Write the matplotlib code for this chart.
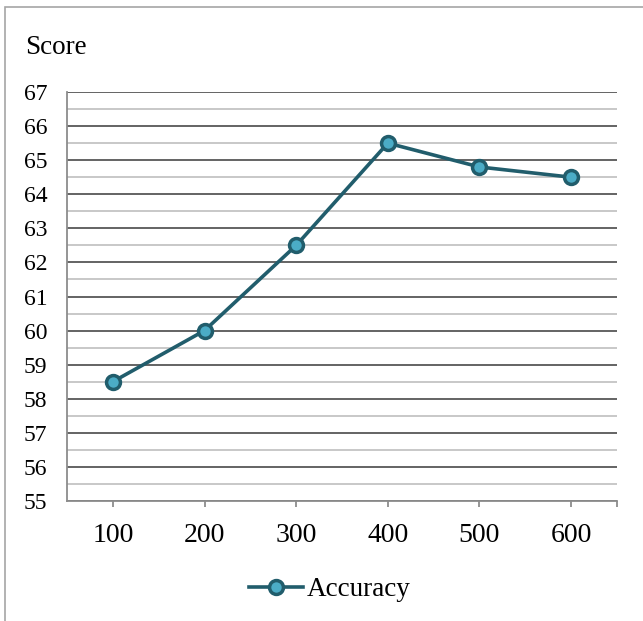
import numpy as np
import matplotlib.pyplot as plt
from matplotlib.patches import Rectangle

# chart data
sizes = ['100', '200', '300', '400', '500', '600']
accuracy = [58.5, 60.0, 62.5, 65.5, 64.8, 64.5]
y_ticks = list(range(55, 68))

plt.rcParams['font.family'] = ['Liberation Serif', 'DejaVu Serif']

line_col = '#215d6c'
fill_col = '#4bacc6'

fig = plt.figure(figsize=(6.43, 6.21), dpi=100)
ax = fig.add_axes([67 / 643, 120 / 621, 550 / 643, 409 / 621])

x = np.arange(len(sizes))
ax.plot(x, accuracy, color=line_col, lw=2.6, marker='o', ms=10,
        mfc=fill_col, mec=line_col, mew=2.5, label='Accuracy', zorder=5,
        clip_on=False)

ax.set_xlim(-0.5, len(sizes) - 0.5)
ax.set_ylim(55, 67)
ax.set_xticks(list(x) + [len(sizes) - 0.5])
ax.set_xticklabels(sizes + [''])
ax.set_yticks(y_ticks)
ax.set_yticks(np.arange(55.5, 67, 1.0), minor=True)

# excel style gridlines
ax.grid(which='major', axis='y', color='#636363', lw=1.4)
ax.grid(which='minor', axis='y', color='#c4c4c4', lw=1.3)
ax.set_axisbelow(True)

for s in ['top', 'right']:
    ax.spines[s].set_visible(False)
for s in ['left', 'bottom']:
    ax.spines[s].set_color('#8c8c8c')
    ax.spines[s].set_linewidth(1.3)

ax.tick_params(axis='y', which='both', length=0, pad=14, labelsize=17)
ax.tick_params(axis='x', length=4, width=1.3, color='#8c8c8c', pad=12,
               labelsize=20)

fig.text(25 / 643, 1 - 48 / 621, 'Score', fontsize=19.5, va='center', ha='left')

leg = fig.legend(loc='center', bbox_to_anchor=(330 / 643, 1 - 590 / 621),
                 frameon=False, fontsize=19.5, handlelength=2.0,
                 handletextpad=0.15)

# outer chart frame
fig.patches.append(Rectangle((5 / 643, -0.05), 1.1, 1 - 7 / 621 + 0.05,
                             transform=fig.transFigure, fill=False,
                             ec='#a6a6a6', lw=1.2))

fig.savefig('out.png', dpi=100)
